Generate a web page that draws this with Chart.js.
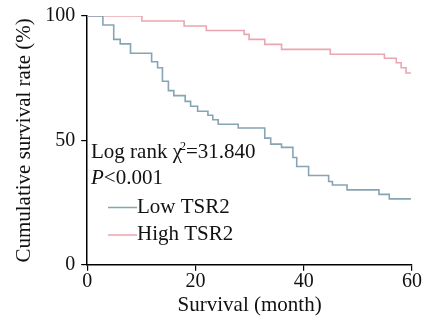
<!DOCTYPE html>
<html>
<head>
<meta charset="utf-8">
<script src="https://cdn.jsdelivr.net/npm/chart.js@4"></script>
<style>
  html, body { margin: 0; padding: 0; background: #fff; }
  #wrap { width: 424px; height: 329px; position: relative; }
</style>
</head>
<body>
<div id="wrap"><canvas id="kmChart" width="424" height="329"></canvas></div>
<script>
// Kaplan-Meier steps: month of drop -> survival after drop (%)
const lowMonths = [0, 2.9, 4.9, 6.1, 8.0, 11.9, 13.0, 13.9, 15.0, 16.0, 18.1, 19.1, 20.4, 22.3, 23.2, 24.2, 27.9, 32.8, 33.9, 35.9, 38.0, 38.7, 40.9, 44.6, 45.3, 48.0, 53.9, 55.8, 59.8];
const lowSurvival = [100, 96.4, 90.6, 88.8, 85.0, 81.6, 79.2, 73.8, 70.0, 68.0, 65.7, 63.7, 61.7, 60.1, 58.3, 56.5, 55.0, 50.9, 48.5, 47.2, 43.1, 39.5, 35.9, 33.5, 32.1, 30.1, 28.3, 26.5, 26.5];
const highMonths = [0, 10.1, 17.9, 22.0, 29.0, 29.9, 32.8, 35.9, 44.9, 54.9, 57.1, 58.0, 58.9, 59.8];
const highSurvival = [100, 98.0, 96.0, 94.2, 92.6, 90.6, 88.6, 86.6, 84.6, 83.0, 81.2, 79.2, 77.1, 77.1];

const xTicks = [0, 20, 40, 60];
const yTicks = [0, 50, 100];

const lowColor = "#86a4b4";
const highColor = "#eaa6b0";
const serif = "'Liberation Serif', 'DejaVu Serif', serif";

function toPoints(xs, ys) {
  return xs.map((x, i) => ({ x: x, y: ys[i] }));
}

// annotation text + legend drawn inside the plot area
const insideText = {
  id: "insideText",
  afterDraw(chart) {
    const ctx = chart.ctx;
    ctx.save();
    ctx.fillStyle = "#111";
    ctx.textBaseline = "alphabetic";
    ctx.font = "21px " + serif;
    let x = 91;
    ctx.fillText("Log rank \u03c7", x, 158);
    let w = ctx.measureText("Log rank \u03c7").width;
    ctx.font = "12px " + serif;
    ctx.fillText("2", x + w - 2, 150);
    ctx.font = "21px " + serif;
    ctx.fillText("=31.840", x + w + 4, 158);

    ctx.font = "italic 21px " + serif;
    ctx.fillText("P", 91, 184);
    w = ctx.measureText("P").width;
    ctx.font = "21px " + serif;
    ctx.fillText("<0.001", 91 + w, 184);

    const items = [
      { label: "Low TSR2", color: lowColor, y: 213, lineY: 207.5 },
      { label: "High TSR2", color: highColor, y: 240, lineY: 235 }
    ];
    items.forEach((it) => {
      ctx.strokeStyle = it.color;
      ctx.lineWidth = 1.5;
      ctx.beginPath();
      ctx.moveTo(108, it.lineY);
      ctx.lineTo(137, it.lineY);
      ctx.stroke();
      ctx.fillStyle = "#111";
      ctx.fillText(it.label, 137, it.y);
    });
    ctx.restore();
  }
};

new Chart(document.getElementById("kmChart"), {
  type: "line",
  data: {
    datasets: [
      {
        label: "Low TSR2",
        data: toPoints(lowMonths, lowSurvival),
        borderColor: lowColor,
        borderWidth: 1.6,
        stepped: true,
        pointRadius: 0,
        fill: false
      },
      {
        label: "High TSR2",
        data: toPoints(highMonths, highSurvival),
        borderColor: highColor,
        borderWidth: 1.6,
        stepped: true,
        pointRadius: 0,
        fill: false
      }
    ]
  },
  options: {
    responsive: false,
    animation: false,
    layout: { padding: { top: 5, right: 12, bottom: 11, left: 12 } },
    plugins: { legend: { display: false }, tooltip: { enabled: false } },
    scales: {
      x: {
        type: "linear",
        min: 0,
        max: 60,
        afterBuildTicks: (axis) => { axis.ticks = xTicks.map((v) => ({ value: v })); },
        grid: { display: true, drawOnChartArea: false, drawTicks: true, tickLength: 6, color: "#000", lineWidth: 1.2 },
        border: { display: true, color: "#000", width: 1.5 },
        ticks: { color: "#111", font: { family: serif, size: 20, lineHeight: 1.0 }, padding: 1, maxRotation: 0 },
        title: { display: true, text: "Survival (month)", color: "#111", font: { family: serif, size: 21 }, padding: { top: 0, bottom: 0 } }
      },
      y: {
        min: 0,
        max: 100,
        afterBuildTicks: (axis) => { axis.ticks = yTicks.map((v) => ({ value: v })); },
        grid: { display: true, drawOnChartArea: false, drawTicks: true, tickLength: 6, color: "#000", lineWidth: 1.2 },
        border: { display: true, color: "#000", width: 1.5 },
        ticks: { color: "#111", font: { family: serif, size: 20, lineHeight: 1.0 }, padding: 6 },
        title: { display: true, text: "Cumulative survival rate (%)", color: "#111", font: { family: serif, size: 21 }, padding: { top: 0, bottom: 2 } }
      }
    }
  },
  plugins: [insideText]
});
</script>
</body>
</html>
